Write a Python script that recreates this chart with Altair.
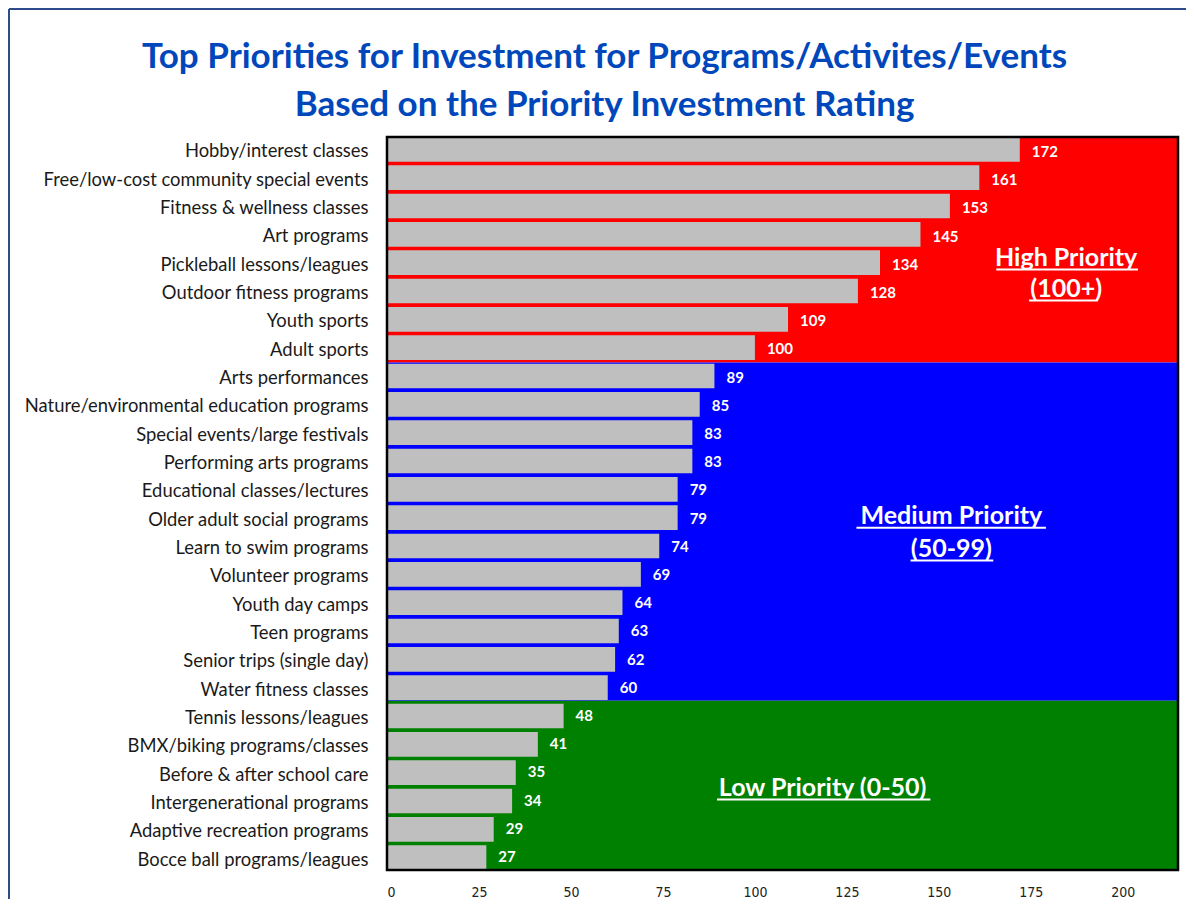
import altair as alt
import pandas as pd

# ---------------- data ----------------
categories = [
    "Hobby/interest classes",
    "Free/low-cost community special events",
    "Fitness & wellness classes",
    "Art programs",
    "Pickleball lessons/leagues",
    "Outdoor fitness programs",
    "Youth sports",
    "Adult sports",
    "Arts performances",
    "Nature/environmental education programs",
    "Special events/large festivals",
    "Performing arts programs",
    "Educational classes/lectures",
    "Older adult social programs",
    "Learn to swim programs",
    "Volunteer programs",
    "Youth day camps",
    "Teen programs",
    "Senior trips (single day)",
    "Water fitness classes",
    "Tennis lessons/leagues",
    "BMX/biking programs/classes",
    "Before & after school care",
    "Intergenerational programs",
    "Adaptive recreation programs",
    "Bocce ball programs/leagues",
]
values = [172, 161, 153, 145, 134, 128, 109, 100,
          89, 85, 83, 83, 79, 79, 74, 69, 64, 63, 62, 60,
          48, 41, 35, 34, 29, 27]

tier_names = ["High", "Medium", "Low"]
tier_counts = [8, 12, 6]
tier_colors = ["#FF0000", "#0000FF", "#008000"]

x_ticks = [0, 25, 50, 75, 100, 125, 150, 175, 200]
x_max = 215

title_lines = ["Top Priorities for Investment for Programs/Activites/Events",
               "Based on the Priority Investment Rating"]

# annotation text lines: (text, x centre in data units, row position)
ann_text = ["High Priority ", "(100+)", "Medium Priority", "(50-99)", "Low Priority (0-50)"]
ann_x = [184.6, 184.6, 153.4, 153.4, 118.4]
ann_row = [4.3, 5.39, 13.44, 14.6, 23.08]
# underline extents (data units) and row position
ul_x0 = [165.6, 174.5, 127.6, 142.3, 89.7]
ul_x1 = [204.1, 193.2, 179.1, 164.8, 147.7]
ul_row = [4.70, 5.80, 13.86, 15.02, 23.50]

# ---------------- tables ----------------
bars_df = pd.DataFrame({"category": categories, "value": values})

starts, ends, acc = [], [], 0
for c in tier_counts:
    starts.append(acc)
    acc += c
    ends.append(acc)
bands_df = pd.DataFrame({"tier": tier_names, "start": starts, "end": ends,
                         "x0": [0] * 3, "x1": [x_max] * 3})
ann_df = pd.DataFrame({"text": ann_text, "x": ann_x, "row": ann_row})
ul_df = pd.DataFrame({"x0": ul_x0, "x1": ul_x1, "row": ul_row})
ticks_df = pd.DataFrame({"t": x_ticks})

W, H = 791, 733
n = len(categories)

xscale = alt.Scale(domain=[0, x_max], nice=False, zero=True)
rowscale = alt.Scale(domain=[0, n], reverse=True, nice=False, zero=False)
catscale = alt.Scale(paddingInner=0.13, paddingOuter=0)

x_axis = alt.Axis(title=None, values=x_ticks, grid=False, ticks=False, domain=False,
                  labelFont="Liberation Sans Narrow, DejaVu Sans Condensed, Lato",
                  labelFontSize=14, labelColor="#222222", labelPadding=15)

bg = alt.Chart(bands_df).mark_rect().encode(
    x=alt.X("x0:Q", scale=xscale, axis=None),
    x2="x1:Q",
    y=alt.Y("start:Q", scale=rowscale, axis=None),
    y2="end:Q",
    color=alt.Color("tier:N", scale=alt.Scale(domain=tier_names, range=tier_colors), legend=None),
)

bars = alt.Chart(bars_df).mark_bar(color="#BFBFBF").encode(
    x=alt.X("value:Q", scale=xscale, axis=None),
    y=alt.Y("category:N", sort=categories, scale=catscale,
            axis=alt.Axis(title=None, ticks=False, domain=False, grid=False,
                          labelFont="Lato", labelFontSize=18.4, labelColor="#1a1a1a",
                          labelPadding=19, labelLimit=400, labelOffset=2)),
)

vlabels = alt.Chart(bars_df).mark_text(
    align="left", baseline="middle", dx=12, dy=1, color="white",
    font="Lato", fontWeight="bold", fontSize=15,
).encode(
    x=alt.X("value:Q", scale=xscale, axis=None),
    y=alt.Y("category:N", sort=categories, scale=catscale, axis=None),
    text="value:Q",
)

ann = alt.Chart(ann_df).mark_text(
    align="center", baseline="middle", color="white",
    font="Lato", fontWeight="bold", fontSize=25,
).encode(
    x=alt.X("x:Q", scale=xscale, axis=None),
    y=alt.Y("row:Q", scale=rowscale, axis=None),
    text="text:N",
)

ul = alt.Chart(ul_df).mark_rule(color="white", strokeWidth=2).encode(
    x=alt.X("x0:Q", scale=xscale, axis=None),
    x2="x1:Q",
    y=alt.Y("row:Q", scale=rowscale, axis=None),
)

# axis layer: invisible points carrying the value axis
axis_layer = alt.Chart(ticks_df).mark_point(opacity=0).encode(
    x=alt.X("t:Q", scale=xscale, axis=x_axis),
    y=alt.value(H),
)

border = alt.Chart(alt.Data(values=[{}])).mark_rect(
    fillOpacity=0, stroke="black", strokeWidth=2.5
).encode(x=alt.value(0), x2=alt.value(W), y=alt.value(0), y2=alt.value(H))

# outer frame of the figure (left/top edges visible, rest runs off the page)
frame_left = alt.Chart(alt.Data(values=[{}])).mark_rule(
    stroke="#2E4C8C", strokeWidth=2
).encode(x=alt.value(-378), y=alt.value(-128), y2=alt.value(H + 29))
frame_top = alt.Chart(alt.Data(values=[{}])).mark_rule(
    stroke="#2E4C8C", strokeWidth=2
).encode(x=alt.value(-378), x2=alt.value(W + 8), y=alt.value(-128))

title1 = alt.Chart(pd.DataFrame({"line": [title_lines[0]]})).mark_text(
    align="center", baseline="alphabetic", color="#0047BB",
    font="Lato", fontWeight="bold", fontSize=35,
).encode(x=alt.value(217.5), y=alt.value(-69), text="line:N")
title2 = alt.Chart(pd.DataFrame({"line": [title_lines[1]]})).mark_text(
    align="center", baseline="alphabetic", color="#0047BB",
    font="Lato", fontWeight="bold", fontSize=35,
).encode(x=alt.value(217.5), y=alt.value(-21), text="line:N")

chart = alt.layer(
    bg, bars, vlabels, ann, ul, axis_layer, border, frame_left, frame_top, title1, title2
).resolve_scale(
    y="independent", x="independent"
).properties(
    width=W, height=H,
    autosize=alt.AutoSizeParams(type="none"),
    padding={"left": 379, "top": 129, "right": 8, "bottom": 29},
).configure_view(stroke=None).configure(background="white")

chart.save("out.html", embed_options={"renderer": "svg", "actions": False})
